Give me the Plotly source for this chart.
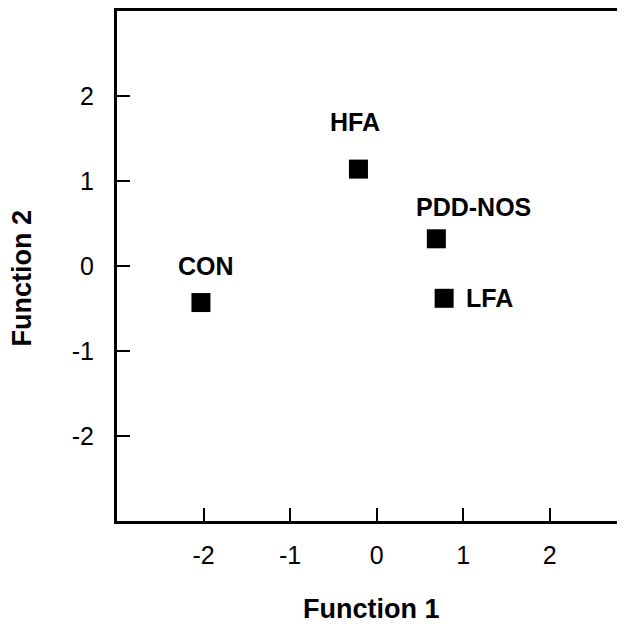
import plotly.graph_objects as go

groups = ["CON", "HFA", "PDD-NOS", "LFA"]
function1 = [-2.03, -0.21, 0.69, 0.78]
function2 = [-0.43, 1.14, 0.32, -0.38]

x_ticks = [-2, -1, 0, 1, 2]
y_ticks = [-2, -1, 0, 1, 2]

# label offsets in pixels relative to each point (xshift, yshift, xanchor)
label_offsets = {
    "CON": (5, 37, "center"),
    "HFA": (-3, 47, "center"),
    "PDD-NOS": (37, 32, "center"),
    "LFA": (20, 0, "left"),
}

FONT = "Liberation Sans, Arial, Helvetica, sans-serif"

fig = go.Figure()
fig.add_trace(go.Scatter(
    x=function1, y=function2, mode="markers",
    marker=dict(symbol="square", size=19, color="black", line=dict(width=0)),
    hoverinfo="skip", showlegend=False,
))

for g, xv, yv in zip(groups, function1, function2):
    dx, dy, anc = label_offsets[g]
    fig.add_annotation(
        x=xv, y=yv, xref="x", yref="y", text="<b>%s</b>" % g, showarrow=False,
        xshift=dx, yshift=dy, xanchor=anc, yanchor="middle",
        font=dict(family=FONT, size=25, color="black"),
    )

fig.add_annotation(
    x=0.5, y=-0.172, xref="paper", yref="paper", text="<b>Function 1</b>",
    showarrow=False, xanchor="center", yanchor="middle",
    font=dict(family=FONT, size=27, color="black"),
)
fig.add_annotation(
    x=0, y=0.4755, xref="paper", yref="paper", text="<b>Function 2</b>",
    showarrow=False, xanchor="center", yanchor="middle", xshift=-95,
    textangle=-90, font=dict(family=FONT, size=27, color="black"),
)

axis_common = dict(
    showgrid=False, zeroline=False, showline=True, linecolor="black",
    linewidth=3, ticks="inside", ticklen=13, tickwidth=2, tickcolor="black",
    tickfont=dict(family=FONT, size=25, color="black"),
)

fig.update_xaxes(range=[-3.0, 2.87], tickvals=x_ticks, ticktext=[str(v) for v in x_ticks],
                 mirror=True, ticklabelstandoff=10, **axis_common)
fig.update_yaxes(range=[-3.0, 3.0], tickvals=y_ticks, ticktext=[str(v) for v in y_ticks],
                 ticklabelstandoff=15, **axis_common)

fig.update_layout(
    width=617, height=615,
    margin=dict(l=109, r=0, t=3, b=102),
    paper_bgcolor="white", plot_bgcolor="white",
)

fig.write_html("out.html")
